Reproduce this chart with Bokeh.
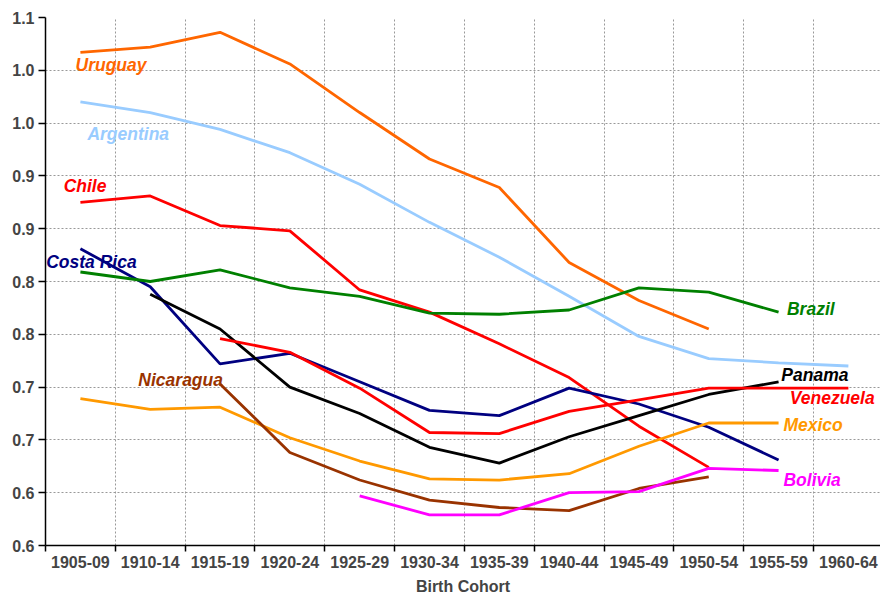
from bokeh.plotting import figure
from bokeh.models import Range1d, FixedTicker
from bokeh.core.properties import value
from bokeh.embed import file_html
from bokeh.resources import INLINE

cohorts = ["1905-09", "1910-14", "1915-19", "1920-24", "1925-29", "1930-34",
           "1935-39", "1940-44", "1945-49", "1950-54", "1955-59", "1960-64"]

y_ticks = [0.60, 0.65, 0.70, 0.75, 0.80, 0.85, 0.90, 0.95, 1.00, 1.05, 1.10]
y_tick_labels = ["0.6", "0.6", "0.7", "0.7", "0.8", "0.8", "0.9", "0.9", "1.0", "1.0", "1.1"]

N = None
uruguay    = [1.067, 1.072, 1.086, 1.056, 1.010, 0.966, 0.939, 0.868, 0.832, 0.805, N, N]
argentina  = [1.020, 1.010, 0.994, 0.972, 0.942, 0.906, 0.873, 0.836, 0.798, 0.777, 0.773, 0.770]
chile      = [0.925, 0.931, 0.903, 0.898, 0.842, 0.821, 0.791, 0.759, 0.713, 0.674, N, N]
costa_rica = [0.881, 0.845, 0.772, 0.782, 0.755, 0.728, 0.723, 0.749, 0.734, 0.712, 0.681, N]
brazil     = [0.859, 0.850, 0.861, 0.844, 0.836, 0.820, 0.819, 0.823, 0.844, 0.840, 0.821, N]
panama     = [N, 0.838, 0.805, 0.750, 0.725, 0.693, 0.678, 0.703, 0.723, 0.743, 0.755, N]
venezuela  = [N, N, 0.796, 0.783, 0.749, 0.707, 0.706, 0.727, 0.738, 0.749, 0.749, 0.749]
mexico     = [0.739, 0.729, 0.731, 0.702, 0.680, 0.663, 0.662, 0.668, 0.694, 0.716, 0.716, N]
nicaragua  = [N, N, 0.753, 0.688, 0.662, 0.643, 0.636, 0.633, 0.654, 0.665, N, N]
bolivia    = [N, N, N, N, 0.647, 0.629, 0.629, 0.650, 0.651, 0.673, 0.671, N]

series = [
    ("Uruguay", uruguay, "#FF6600"),
    ("Argentina", argentina, "#99CCFF"),
    ("Chile", chile, "#FF0000"),
    ("Costa Rica", costa_rica, "#000080"),
    ("Brazil", brazil, "#008000"),
    ("Panama", panama, "#000000"),
    ("Venezuela", venezuela, "#FF0000"),
    ("Mexico", mexico, "#FF9900"),
    ("Nicaragua", nicaragua, "#993300"),
    ("Bolivia", bolivia, "#FF00FF"),
]

# label anchor positions (left-middle), in data units
label_pos = {
    "Uruguay": (0.43, 1.055),
    "Argentina": (0.60, 0.990),
    "Chile": (0.26, 0.940),
    "Costa Rica": (0.01, 0.868),
    "Nicaragua": (1.33, 0.757),
    "Brazil": (10.62, 0.8235),
    "Panama": (10.54, 0.761),
    "Venezuela": (10.66, 0.740),
    "Mexico": (10.57, 0.714),
    "Bolivia": (10.57, 0.6625),
}

FONT = "Liberation Sans"

p = figure(width=880, height=597, output_backend="svg", toolbar_location=None,
           x_range=Range1d(0, 11.96), y_range=Range1d(0.6, 1.1),
           min_border_left=45, min_border_right=0, min_border_top=17, min_border_bottom=52)
p.outline_line_color = None
p.background_fill_color = "white"
p.border_fill_color = "white"

n = len(cohorts)
centers = [i + 0.5 for i in range(n)]
bounds = [float(i) for i in range(n + 1)]

for name, vals, color in series:
    xs = [centers[i] for i, v in enumerate(vals) if v is not None]
    ys = [v for v in vals if v is not None]
    p.line(xs, ys, line_color=color, line_width=2.8)
    lx, ly = label_pos[name]
    p.text(x=[lx], y=[ly], text=[name], text_color=color, text_font=value(FONT),
           text_font_style="bold italic", text_font_size="17.5px",
           text_align="left", text_baseline="middle")

# x axis
xa = p.xaxis[0]
xa.ticker = FixedTicker(ticks=centers, minor_ticks=bounds)
xa.major_label_overrides = {c: lab for c, lab in zip(centers, cohorts)}
xa.major_tick_line_color = None
xa.major_tick_out = 6
xa.major_tick_in = 0
xa.minor_tick_out = 6
xa.minor_tick_in = 0
xa.minor_tick_line_color = "black"
xa.minor_tick_line_width = 1.5
xa.axis_line_width = 1.5
xa.major_label_text_font = FONT
xa.major_label_text_font_style = "bold"
xa.major_label_text_font_size = "16px"
xa.major_label_standoff = 4
xa.axis_label = "Birth Cohort"
xa.axis_label_text_font = FONT
xa.axis_label_text_font_style = "bold"
xa.axis_label_text_font_size = "16px"
xa.axis_label_standoff = 7

# y axis
ya = p.yaxis[0]
ya.ticker = FixedTicker(ticks=y_ticks)
ya.major_label_overrides = {t: lab for t, lab in zip(y_ticks, y_tick_labels)}
ya.minor_tick_line_color = None
ya.major_tick_out = 7
ya.major_tick_in = 0
ya.major_tick_line_width = 1.5
ya.axis_line_width = 1.5
ya.major_label_text_font = FONT
ya.major_label_text_font_style = "bold"
ya.major_label_text_font_size = "16px"
ya.major_label_standoff = 4

# grids
p.xgrid.ticker = FixedTicker(ticks=bounds)
for g in (p.xgrid[0], p.ygrid[0]):
    g.grid_line_color = "#999999"
    g.grid_line_dash = "2 2"
    g.grid_line_width = 1

open("out.html", "w").write(file_html(p, INLINE))
